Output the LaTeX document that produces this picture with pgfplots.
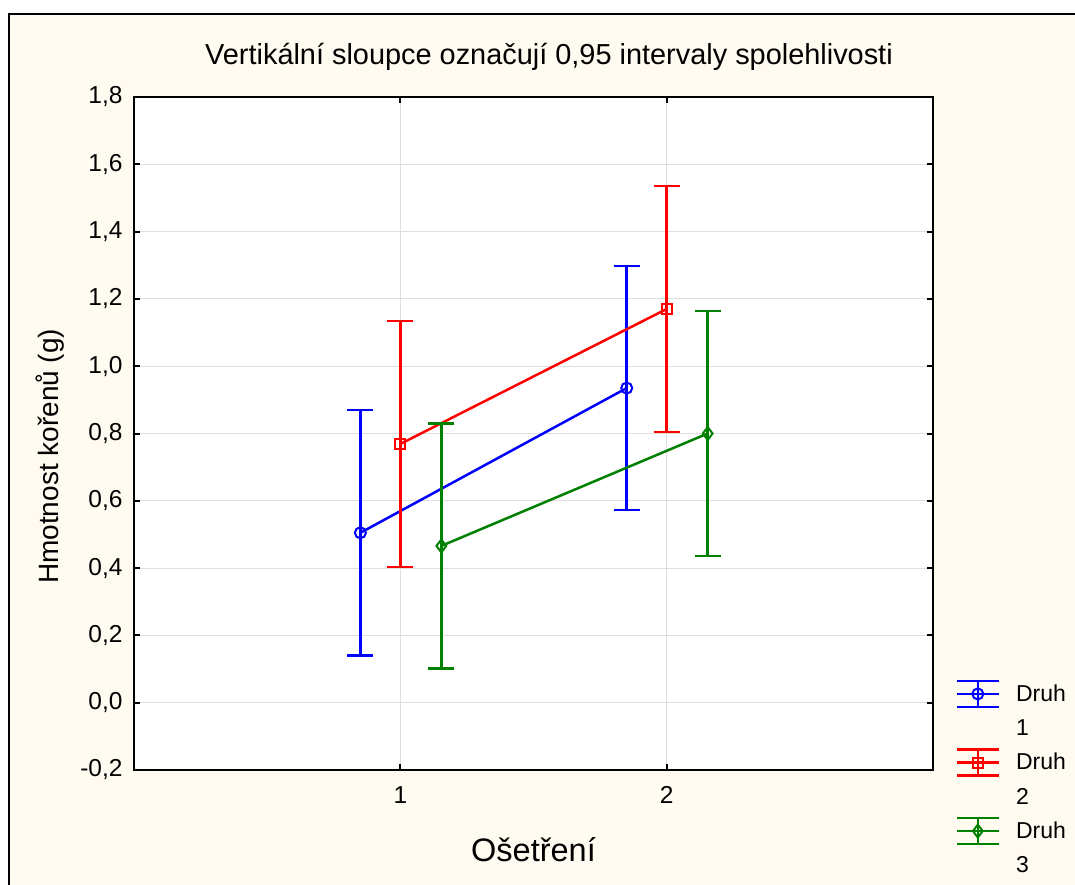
\documentclass[border=0pt]{standalone}
\usepackage{fontspec}
\setmainfont{Liberation Sans}
\usepackage{pgfplots}
\pgfplotsset{compat=1.18}
\definecolor{bgc}{HTML}{FFFBF0}
\definecolor{dblue}{HTML}{0000FF}
\definecolor{dred}{HTML}{FF0000}
\definecolor{dgreen}{HTML}{008000}
\pgfplotstableread{
x y e
0.85 0.505 0.365
1.85 0.935 0.363
}\druhA
\pgfplotstableread{
x y e
1.00 0.769 0.365
2.00 1.170 0.365
}\druhB
\pgfplotstableread{
x y e
1.154 0.466 0.364
2.154 0.800 0.364
}\druhC
\begin{document}
\begin{tikzpicture}[x=1pt,y=1pt]
\useasboundingbox (0,0) rectangle (1075,884);
\fill[white] (0,0) rectangle (1075,884);
\draw[line width=2pt, fill=bgc] (9,-20) rectangle (1095,870);
\node[font=\fontsize{28.9}{32}\selectfont] at (549,827) {Vertikální sloupce označují 0,95 intervaly spolehlivosti};
\begin{axis}[at={(134pt,114pt)}, anchor=south west, width=799pt, height=673pt, scale only axis,
  xmin=0, xmax=3, ymin=-0.2, ymax=1.8,
  xtick={1,2}, xticklabels={1,2},
  ytick={-0.2,0,0.2,0.4,0.6,0.8,1.0,1.2,1.4,1.6,1.8},
  grid=major, grid style={color=black!13, line width=1.2pt},
  axis line style={line width=2pt},
  tick style={black, line width=2pt}, tick align=inside, major tick length=6pt,
  axis background/.style={fill=white},
  ticklabel style={font=\fontsize{24.5}{26}\selectfont},
  yticklabel style={/pgf/number format/.cd, fixed, fixed zerofill, precision=1, use comma, assume math mode=true, /pgfplots/.cd, xshift=-8pt},
  xticklabel style={yshift=-13pt},
  xlabel={Ošetření}, ylabel={Hmotnost kořenů (g)},
  xlabel style={font=\fontsize{32.5}{36}\selectfont, at={(axis description cs:0.5,-0.118)}, anchor=center},
  ylabel style={font=\fontsize{28}{32}\selectfont, at={(axis description cs:-0.105,0.466)}, anchor=center, rotate=0},
  legend style={at={(axis description cs:1.028,0.1345)}, anchor=north west, draw=none, fill=none,
     font=\fontsize{23}{34.5}\selectfont, cells={align=left, anchor=west}, row sep=9pt, inner sep=0pt},
  legend image code/.code={
     \begin{scope}[yshift=17pt]
     \draw[#1, mark=none] (0pt,-13pt) -- (42pt,-13pt);
     \draw[#1, mark=none] (0pt,0pt) -- (42pt,0pt);
     \draw[#1, mark=none] (0pt,13pt) -- (42pt,13pt);
     \draw[#1, mark=none] (21pt,-13pt) -- (21pt,13pt);
     \draw[#1, only marks] plot coordinates {(21pt,0pt)};
     \end{scope}
     \path (56pt,0pt);
  },
  every axis plot/.append style={line width=2.5pt},
  error bars/error bar style={line width=2.5pt},
  error bars/error mark options={rotate=90, mark size=13pt, line width=2.5pt},
]
\addplot[color=dblue, mark=o, mark size=5.5pt, mark options={fill=white, line width=2pt},
  error bars/.cd, y dir=both, y explicit] table[x=x, y=y, y error=e] {\druhA};
\addlegendentry{Druh\\1}
\addplot[color=dred, mark=square, mark size=5pt, mark options={fill=white, line width=2pt},
  error bars/.cd, y dir=both, y explicit] table[x=x, y=y, y error=e] {\druhB};
\addlegendentry{Druh\\2}
\addplot[color=dgreen, mark=diamond, mark size=6.5pt, mark options={fill=white, line width=2pt},
  error bars/.cd, y dir=both, y explicit] table[x=x, y=y, y error=e] {\druhC};
\addlegendentry{Druh\\3}
\end{axis}
\end{tikzpicture}
\end{document}
